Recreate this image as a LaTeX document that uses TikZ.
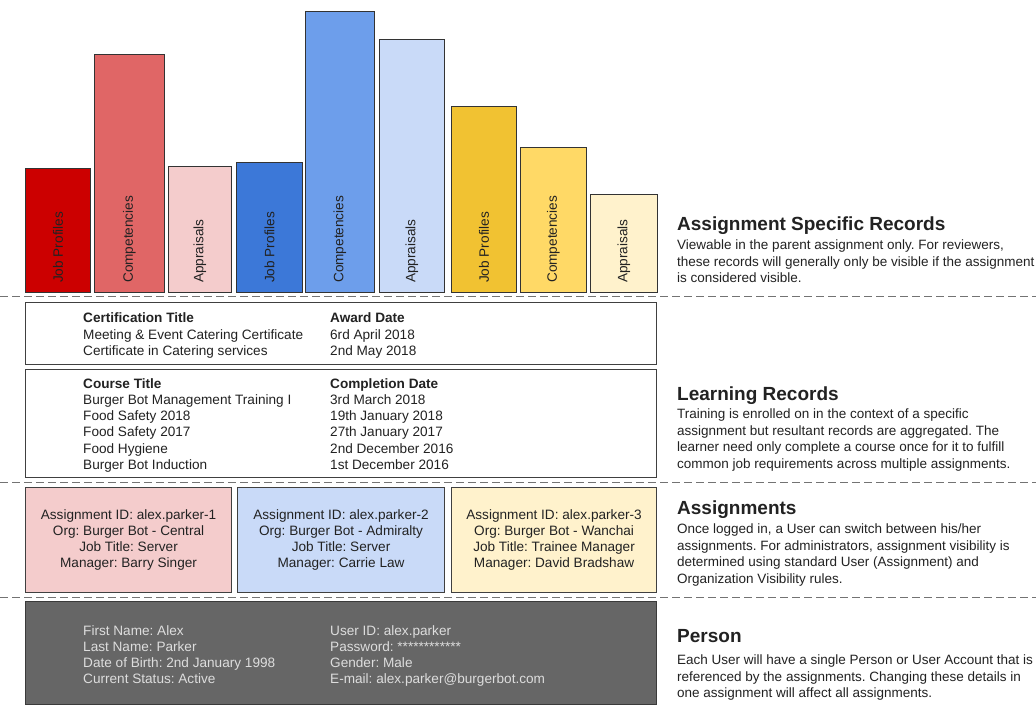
\documentclass[tikz,border=0pt]{standalone}
\usepackage{fontspec}
\setmainfont{Liberation Sans}
\usepackage{array}
\usetikzlibrary{calc}
\frenchspacing
\definecolor{rA}{HTML}{CC0000}
\definecolor{rB}{HTML}{E06666}
\definecolor{rC}{HTML}{F4CCCC}
\definecolor{bA}{HTML}{3C78D8}
\definecolor{bB}{HTML}{6D9EEB}
\definecolor{bC}{HTML}{C9DAF8}
\definecolor{yA}{HTML}{F1C232}
\definecolor{yB}{HTML}{FFD966}
\definecolor{yC}{HTML}{FFF2CC}
\definecolor{pfill}{HTML}{666666}
\definecolor{pline}{HTML}{3A3A3A}
\definecolor{ptext}{HTML}{DDDDDD}
\definecolor{ink}{HTML}{222222}
\newcommand{\boxfont}{\frenchspacing\fontsize{13.6}{16.2}\selectfont}
\newcommand{\barfont}{\fontsize{13.6}{16}\selectfont}
\newcommand{\bodyfont}{\frenchspacing\fontsize{13.5}{16.6}\selectfont}
\newcommand{\headfont}{\fontsize{19}{22}\selectfont\bfseries}
\begin{document}
\begin{tikzpicture}[x=1pt,y=-1pt,
  barbox/.style={draw=black!80, line width=0.9pt, anchor=south west, inner sep=0pt},
  barlbl/.style={font=\barfont, text=ink, rotate=90, anchor=west, inner sep=0pt},
  panel/.style={draw=black!75, line width=1.1pt, anchor=north west, inner sep=0pt},
  persbox/.style={draw=pline, fill=pfill, line width=1.1pt, anchor=north west, inner sep=0pt},
  sep/.style={draw=black!55, line width=0.9pt, dash pattern=on 8pt off 4pt},
  tbl/.style={anchor=base west, inner sep=0pt, font=\boxfont, text=ink},
  asgtxt/.style={inner sep=0pt, font=\boxfont, text=ink, align=center},
  headtxt/.style={anchor=base west, inner sep=0pt, font=\headfont, text=ink},
  bodytxt/.style={anchor=base west, inner sep=0pt, font=\bodyfont, text=ink}
]
\useasboundingbox (0,0) rectangle (1036,706);
\fill[white] (0,0) rectangle (1036,706);

% ---- bars
\node[barbox, fill=rA, minimum width=65pt, minimum height=124pt] (b1) at (25,293) {};
\node[barbox, fill=rB, minimum width=70pt, minimum height=238pt] (b2) at (94,293) {};
\node[barbox, fill=rC, minimum width=63pt, minimum height=126pt] (b3) at (168,293) {};
\node[barbox, fill=bA, minimum width=66pt, minimum height=130pt] (b4) at (236,293) {};
\node[barbox, fill=bB, minimum width=69pt, minimum height=281pt] (b5) at (305,293) {};
\node[barbox, fill=bC, minimum width=65pt, minimum height=253pt] (b6) at (379,293) {};
\node[barbox, fill=yA, minimum width=65pt, minimum height=186pt] (b7) at (451,293) {};
\node[barbox, fill=yB, minimum width=66pt, minimum height=145pt] (b8) at (520,293) {};
\node[barbox, fill=yC, minimum width=67pt, minimum height=98pt] (b9) at (590,293) {};

\node[barlbl] (l1) at ($(b1.south)+(0,-10)$) {Job Profiles};
\node[barlbl] (l2) at ($(b2.south)+(0,-10)$) {Competencies};
\node[barlbl] (l3) at ($(b3.south)+(0,-10)$) {Appraisals};
\node[barlbl] (l4) at ($(b4.south)+(0,-10)$) {Job Profiles};
\node[barlbl] (l5) at ($(b5.south)+(0,-10)$) {Competencies};
\node[barlbl] (l6) at ($(b6.south)+(0,-10)$) {Appraisals};
\node[barlbl] (l7) at ($(b7.south)+(0,-10)$) {Job Profiles};
\node[barlbl] (l8) at ($(b8.south)+(0,-10)$) {Competencies};
\node[barlbl] (l9) at ($(b9.south)+(0,-10)$) {Appraisals};

% ---- separators
\coordinate (s1a) at (0,296);   \coordinate (s1b) at (1036,296);
\coordinate (s2a) at (0,482);   \coordinate (s2b) at (1036,482);
\coordinate (s3a) at (0,597);   \coordinate (s3b) at (1036,597);
\draw[sep] (s1a) -- (s1b);
\draw[sep] (s2a) -- (s2b);
\draw[sep] (s3a) -- (s3b);

% ---- learning records panels
\node[panel, minimum width=631pt, minimum height=62pt] (cert) at (25,302) {};
\node[tbl] (certt) at (83,322.8) {\begin{tabular}[t]{@{}p{247pt}@{}l@{}}
\textbf{Certification Title} & \textbf{Award Date}\\
Meeting \& Event Catering Certificate & 6rd April 2018\\
Certificate in Catering services & 2nd May 2018
\end{tabular}};

\node[panel, minimum width=631pt, minimum height=108pt] (course) at (25,369) {};
\node[tbl] (courset) at (83,388.3) {\begin{tabular}[t]{@{}p{247pt}@{}l@{}}
\textbf{Course Title} & \textbf{Completion Date}\\
Burger Bot Management Training I & 3rd March 2018\\
Food Safety 2018 & 19th January 2018\\
Food Safety 2017 & 27th January 2017\\
Food Hygiene & 2nd December 2016\\
Burger Bot Induction & 1st December 2016
\end{tabular}};

% ---- assignments
\node[panel, fill=rC, minimum width=206pt, minimum height=105pt] (a1) at (25,487) {};
\node[panel, fill=bC, minimum width=207pt, minimum height=105pt] (a2) at (237,487) {};
\node[panel, fill=yC, minimum width=205pt, minimum height=105pt] (a3) at (451,487) {};
\node[asgtxt] (a1t) at (a1.center) {Assignment ID: alex.parker-1\\Org: Burger Bot - Central\\Job Title: Server\\Manager: Barry Singer};
\node[asgtxt] (a2t) at (a2.center) {Assignment ID: alex.parker-2\\Org: Burger Bot - Admiralty\\Job Title: Server\\Manager: Carrie Law};
\node[asgtxt] (a3t) at (a3.center) {Assignment ID: alex.parker-3\\Org: Burger Bot - Wanchai\\Job Title: Trainee Manager\\Manager: David Bradshaw};

% ---- person
\node[persbox, minimum width=631pt, minimum height=103pt] (pers) at (25,601) {};
\node[tbl, text=ptext] (perst) at (83,635) {\begin{tabular}[t]{@{}p{247pt}@{}l@{}}
First Name: Alex & User ID: alex.parker\\
Last Name: Parker & Password: ************\\
Date of Birth: 2nd January 1998 & Gender: Male\\
Current Status: Active & E-mail: alex.parker@burgerbot.com
\end{tabular}};

% ---- right-hand descriptions
\node[headtxt] (h1) at (677,230.5) {Assignment Specific Records};
\node[bodytxt] (d1) at (677,249.5) {\begin{tabular}[t]{@{}l@{}}
Viewable in the parent assignment only. For reviewers,\\
these records will generally only be visible if the assignment\\
is considered visible.
\end{tabular}};

\node[headtxt] (h2) at (677,400) {Learning Records};
\node[bodytxt] (d2) at (677,418.5) {\begin{tabular}[t]{@{}l@{}}
Training is enrolled on in the context of a specific\\
assignment but resultant records are aggregated. The\\
learner need only complete a course once for it to fulfill\\
common job requirements across multiple assignments.
\end{tabular}};

\node[headtxt] (h3) at (677,514) {Assignments};
\node[bodytxt] (d3) at (677,533.5) {\begin{tabular}[t]{@{}l@{}}
Once logged in, a User can switch between his/her\\
assignments. For administrators, assignment visibility is\\
determined using standard User (Assignment) and\\
Organization Visibility rules.
\end{tabular}};

\node[headtxt] (h4) at (677,642.5) {Person};
\node[bodytxt] (d4) at (677,664.5) {\begin{tabular}[t]{@{}l@{}}
Each User will have a single Person or User Account that is\\
referenced by the assignments. Changing these details in\\
one assignment will affect all assignments.
\end{tabular}};
\end{tikzpicture}
\end{document}
